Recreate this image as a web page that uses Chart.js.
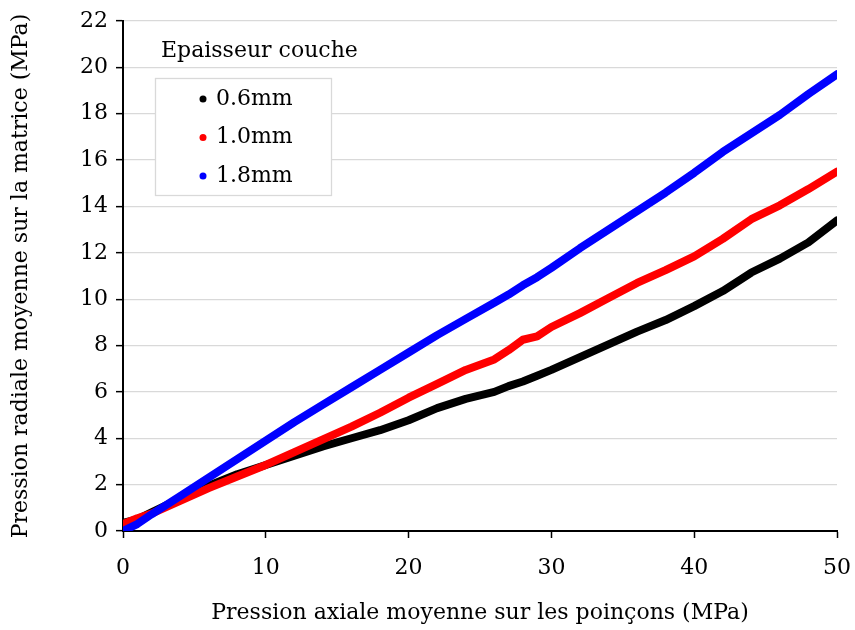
<!DOCTYPE html>
<html><head><meta charset="utf-8">
<script src="https://cdn.jsdelivr.net/npm/chart.js@4.4.1/dist/chart.umd.min.js"></script>
<style>html,body{margin:0;padding:0;background:#fff}#wrap{width:855px;height:630px}</style>
</head><body><div id="wrap"><canvas id="c" width="855" height="630"></canvas></div>
<script>
const pressionAxiale = [0,1,2,4,6,8,10,12,14,16,18,20,22,24,26,27,28,29,30,32,34,36,38,40,42,44,46,48,50];
const couche06 = [0.35,0.5,0.8,1.4,1.95,2.45,2.85,3.25,3.65,4.0,4.35,4.78,5.3,5.7,6.0,6.25,6.45,6.7,6.95,7.5,8.05,8.6,9.1,9.7,10.35,11.15,11.75,12.45,13.4];
const couche10 = [0.3,0.55,0.75,1.3,1.85,2.35,2.85,3.4,3.95,4.5,5.1,5.75,6.35,6.95,7.4,7.8,8.25,8.4,8.8,9.4,10.05,10.7,11.25,11.85,12.6,13.45,14.05,14.75,15.5];
const couche18 = [0.0,0.3,0.72,1.5,2.3,3.1,3.9,4.7,5.45,6.2,6.95,7.7,8.45,9.15,9.85,10.2,10.6,10.95,11.35,12.2,13.0,13.8,14.6,15.45,16.35,17.15,17.95,18.85,19.7];
const seriesLabels = ['0.6mm','1.0mm','1.8mm'];
const seriesColors = ['#000000','#ff0000','#0000ff'];
const xTicks = [0,10,20,30,40,50];
const yTicks = [0,2,4,6,8,10,12,14,16,18,20,22];
const legendTitle = 'Epaisseur couche';
const xTitle = 'Pression axiale moyenne sur les poinçons (MPa)';
const yTitle = 'Pression radiale moyenne sur la matrice (MPa)';

const FONT = '"DejaVu Serif", "Liberation Serif", serif';
const toPts = arr => arr.map((v,i)=>({x:pressionAxiale[i], y:v}));
const allSeries = [couche06, couche10, couche18];

const boxLegend = {
  id:'boxLegend',
  afterDatasetsDraw(chart){
    const ctx = chart.ctx; ctx.save();
    ctx.font = '22px ' + FONT; ctx.fillStyle = '#000'; ctx.textBaseline = 'middle'; ctx.textAlign='left';
    ctx.fillText(legendTitle, 161, 51);
    ctx.fillStyle = '#fff'; ctx.fillRect(155.5,78.5,176,117);
    ctx.strokeStyle = '#d9d9d9'; ctx.lineWidth = 1.3; ctx.strokeRect(155.5,78.5,176,117);
    chart.data.datasets.forEach((ds,i)=>{
      const y = 99 + i*38.5;
      ctx.beginPath(); ctx.arc(203, y, 3.5, 0, Math.PI*2); ctx.fillStyle = ds.borderColor; ctx.fill();
      ctx.fillStyle = '#000'; ctx.font = '22px ' + FONT; ctx.fillText(ds.label, 216, y);
    });
    ctx.restore();
  }
};

new Chart(document.getElementById('c'), {
  type:'scatter',
  data:{ datasets: allSeries.map((s,i)=>({
    label: seriesLabels[i], data: toPts(s), showLine:true,
    borderColor: seriesColors[i], backgroundColor: seriesColors[i],
    borderWidth: 8, pointRadius: 0, tension: 0, borderCapStyle:'round', borderJoinStyle:'round',
    order: 3 - i
  }))},
  options:{
    responsive:false, animation:false, devicePixelRatio:1,
    layout:{padding:{top:21,right:18,left:0,bottom:0}},
    plugins:{legend:{display:false}, tooltip:{enabled:false}},
    scales:{
      x:{type:'linear', min:0, max:50,
        afterBuildTicks: s => { s.ticks = xTicks.map(v=>({value:v})); },
        grid:{drawOnChartArea:false, drawTicks:true, tickLength:7, tickColor:'#000', tickWidth:1.5},
        border:{display:true, color:'#000', width:2},
        ticks:{color:'#000', font:{family:FONT, size:22}, padding:17, maxRotation:0},
        title:{display:true, text:xTitle, color:'#000', font:{family:FONT, size:22}, padding:{top:0,bottom:4}},
        afterFit: s => { s.height = 99; s.paddingRight = 0; s.paddingLeft = 0; }
      },
      y:{min:0, max:22,
        afterBuildTicks: s => { s.ticks = yTicks.map(v=>({value:v})); },
        grid:{color:'#d9d9d9', lineWidth:1.3, drawTicks:true, tickLength:7, tickColor:'#000', tickWidth:1.5},
        border:{display:true, color:'#000', width:2},
        ticks:{color:'#000', font:{family:FONT, size:22}, padding:8},
        title:{display:true, text:yTitle, color:'#000', font:{family:FONT, size:22}, padding:{top:8,bottom:0}},
        afterFit: s => { s.width = 123; s.paddingTop = 0; s.paddingBottom = 0; }
      }
    }
  },
  plugins:[boxLegend]
});
</script></body></html>
